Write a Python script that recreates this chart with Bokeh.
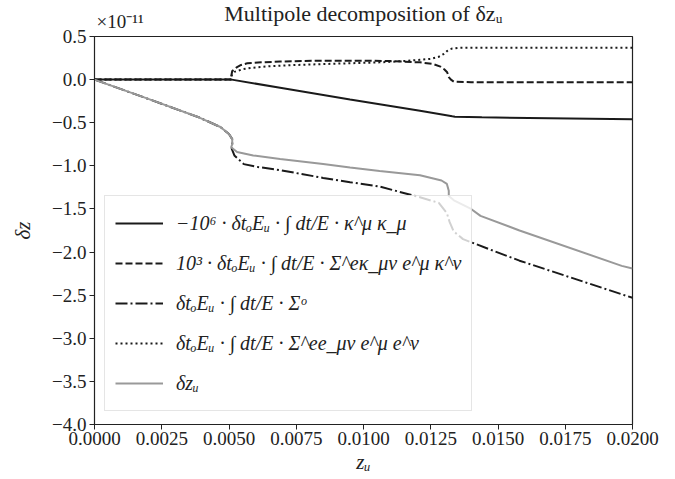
from bokeh.plotting import figure
from bokeh.models import FixedTicker, Legend, LegendItem, Title
from bokeh.embed import file_html
from bokeh.resources import INLINE

# values in units of 1e-11
x_kk = [0, 0.0051, 0.0069, 0.0095, 0.0121, 0.0133, 0.0134, 0.0144, 0.0200]
y_kk = [0, 0, -0.095, -0.23, -0.36, -0.425, -0.43, -0.437, -0.46]

x_ek = [0, 0.00508, 0.00509, 0.00512, 0.0053, 0.00545, 0.00568, 0.0062, 0.0069, 0.0085, 0.0100, 0.0110,
        0.0121, 0.0126, 0.01286, 0.01300, 0.01311, 0.01317, 0.01325, 0.01336, 0.0140, 0.0200]
y_ek = [0, 0, 0.05, 0.10, 0.145, 0.17, 0.19, 0.20, 0.21, 0.22, 0.22, 0.215,
        0.20, 0.18, 0.15, 0.12, 0.085, 0.03, 0.0, -0.025, -0.03, -0.03]

x_so = [0, 0.0020, 0.0039, 0.00468, 0.0050, 0.00512, 0.00512, 0.00510, 0.0052, 0.00555, 0.0060, 0.0069,
        0.0085, 0.0095, 0.0106, 0.0121, 0.0128, 0.0131, 0.0132, 0.01335, 0.0137, 0.0147, 0.0158, 0.0196, 0.0200]
y_so = [0, -0.224, -0.44, -0.55, -0.63, -0.69, -0.75, -0.80, -0.88, -0.98, -1.01, -1.05,
        -1.14, -1.19, -1.24, -1.365, -1.43, -1.55, -1.65, -1.76, -1.85, -1.97, -2.10, -2.49, -2.53]

x_ee = [0, 0.00508, 0.00510, 0.0052, 0.0055, 0.0058, 0.0065, 0.0075, 0.0085, 0.0095, 0.0106, 0.0115,
        0.0121, 0.0125, 0.0128, 0.0130, 0.0131, 0.0132, 0.0133, 0.0135, 0.0140, 0.0200]
y_ee = [0, 0, 0.05, 0.09, 0.12, 0.135, 0.155, 0.17, 0.18, 0.19, 0.20, 0.215,
        0.23, 0.24, 0.265, 0.30, 0.33, 0.35, 0.36, 0.368, 0.37, 0.37]

x_dz = [0, 0.0020, 0.0039, 0.00468, 0.0050, 0.00512, 0.00512, 0.00508, 0.0053, 0.0059, 0.0069, 0.0085,
        0.0095, 0.0106, 0.0121, 0.0129, 0.0131, 0.01317, 0.01317, 0.01336, 0.0140, 0.01435, 0.0158, 0.0196, 0.0200]
y_dz = [0, -0.224, -0.44, -0.55, -0.63, -0.69, -0.75, -0.785, -0.84, -0.88, -0.92, -0.98,
        -1.02, -1.06, -1.11, -1.17, -1.21, -1.29, -1.35, -1.40, -1.50, -1.58, -1.75, -2.16, -2.19]

labels = [
    "−10⁶ · δtₒEᵤ · ∫ dt/E · κ^μ κ_μ",
    "10³ · δtₒEᵤ · ∫ dt/E · Σ^eκ_μν e^μ κ^ν",
    "δtₒEᵤ · ∫ dt/E · Σᵒ",
    "δtₒEᵤ · ∫ dt/E · Σ^ee_μν e^μ e^ν",
    "δzᵤ",
]
offset_text = "×10⁻¹¹"
title_text = "Multipole decomposition of δzᵤ"

x_ticks = [0, 0.0025, 0.005, 0.0075, 0.01, 0.0125, 0.015, 0.0175, 0.02]
x_tick_labels = ["0.0000", "0.0025", "0.0050", "0.0075", "0.0100", "0.0125", "0.0150", "0.0175", "0.0200"]
y_ticks = [0.5, 0.0, -0.5, -1.0, -1.5, -2.0, -2.5, -3.0, -3.5, -4.0]
y_tick_labels = ["0.5", "0.0", "−0.5", "−1.0", "−1.5", "−2.0", "−2.5", "−3.0", "−3.5", "−4.0"]

FONT = "Liberation Serif"

p = figure(width=675, height=479, x_range=(0, 0.02), y_range=(-4.0, 0.5),
           output_backend="svg", toolbar_location=None,
           min_border_left=94, min_border_right=43, min_border_top=36, min_border_bottom=55)
p.title = None

# offset text (nearest to the frame) and main title (stacked above, pulled down to overlap)
p.add_layout(Title(text=offset_text, align="left", text_font=FONT, text_font_size="19px",
                   text_font_style="normal", text_color="#222222", standoff=10, offset=2), "above")
p.add_layout(Title(text=title_text, align="center", text_font=FONT, text_font_size="22px",
                   text_font_style="normal", text_color="#222222", standoff=-44), "above")

p.xgrid.visible = False
p.ygrid.visible = False
p.outline_line_color = "#222222"
p.outline_line_width = 1.2
p.background_fill_color = "white"
p.border_fill_color = "white"

for ax in (p.xaxis[0], p.yaxis[0]):
    ax.axis_line_color = "#222222"
    ax.major_tick_line_color = "#222222"
    ax.major_tick_out = 5
    ax.major_tick_in = 0
    ax.minor_tick_line_color = None
    ax.major_label_text_font = FONT
    ax.major_label_text_font_size = "19px"
    ax.major_label_text_color = "#222222"
    ax.axis_label_text_font = FONT
    ax.axis_label_text_font_size = "21px"
    ax.axis_label_text_font_style = "italic"
    ax.axis_label_text_color = "#222222"

p.xaxis.ticker = FixedTicker(ticks=x_ticks)
p.xaxis.major_label_overrides = {t: l for t, l in zip(x_ticks, x_tick_labels)}
p.xaxis.major_label_standoff = 2
p.xaxis.axis_label = "zᵤ"
p.xaxis.axis_label_standoff = 2

p.yaxis.ticker = FixedTicker(ticks=y_ticks)
p.yaxis.major_label_overrides = {t: l for t, l in zip(y_ticks, y_tick_labels)}
p.yaxis.major_label_standoff = 3
p.yaxis.axis_label = "δz"
p.yaxis.axis_label_standoff = 14

r1 = p.line(x_kk, y_kk, line_color="#1a1a1a", line_width=2)
r2 = p.line(x_ek, y_ek, line_color="#1a1a1a", line_width=2, line_dash="7 3")
r3 = p.line(x_so, y_so, line_color="#1a1a1a", line_width=2, line_dash="12 3 2 3")
r4 = p.line(x_ee, y_ee, line_color="#1a1a1a", line_width=2, line_dash="2 3")
r5 = p.line(x_dz, y_dz, line_color="#999999", line_width=2)

legend = Legend(items=[LegendItem(label=l, renderers=[r]) for l, r in zip(labels, [r1, r2, r3, r4, r5])],
                location=(10, 13), glyph_width=48, glyph_height=34, label_height=34,
                spacing=6, padding=10, margin=0, label_standoff=13,
                label_text_font=FONT, label_text_font_size="20px", label_text_font_style="italic",
                label_text_color="#222222",
                border_line_color="#cccccc", border_line_width=1,
                background_fill_color="white", background_fill_alpha=0.8)
p.add_layout(legend, "center")

open("out.html", "w").write(file_html(p, INLINE))
